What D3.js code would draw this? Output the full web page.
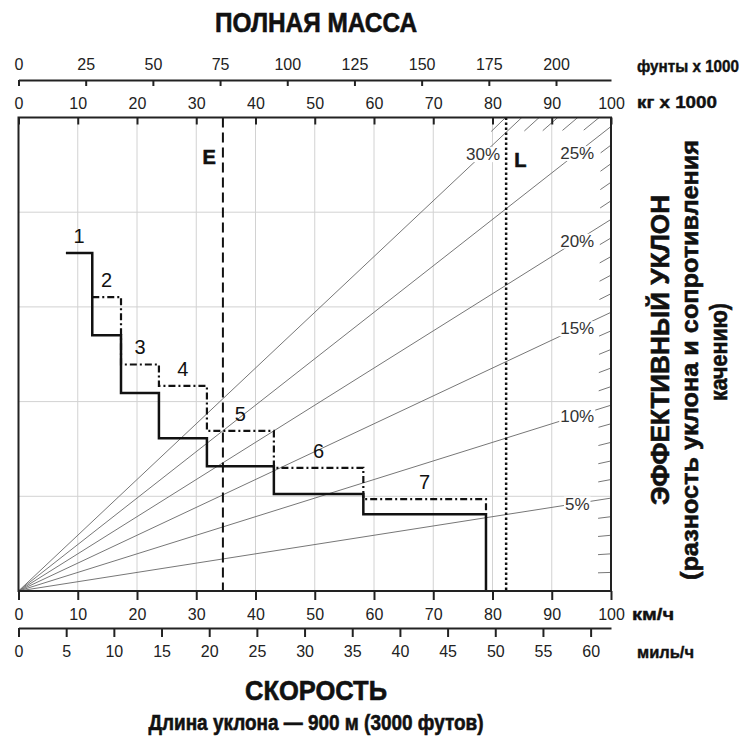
<!DOCTYPE html>
<meta charset="utf-8">
<title>Полная масса / скорость</title>
<style>
body { margin: 0; background: #fff; }
svg { display: block; font-family: "Liberation Sans", Arial, sans-serif; }
.tick text { font-size: 16px; fill: #222; font-family: "Liberation Sans", Arial, sans-serif; }
.tick line, .domain { stroke: #222; stroke-width: 2; }
.bold { font-family: "Liberation Sans", Arial, sans-serif; font-weight: bold; fill: #111; stroke: #111; stroke-width: 0.6; }
.grid { stroke: #d2d2d2; stroke-width: 1; }
.grade { stroke: #777; stroke-width: 1; fill: none; }
.glabel { font-size: 17px; fill: #333; }
.gear { font-size: 20px; fill: #111; }
</style>
<svg width="743" height="740"></svg>
<script src="https://d3js.org/d3.v7.min.js"></script>
<script>
// axis ticks
const poundTicks = [0, 25, 50, 75, 100, 125, 150, 175, 200];
const kgTicks = [0, 10, 20, 30, 40, 50, 60, 70, 80, 90, 100];
const kmhTicks = [0, 10, 20, 30, 40, 50, 60, 70, 80, 90, 100];
const mphTicks = [0, 5, 10, 15, 20, 25, 30, 35, 40, 45, 50, 55, 60];

// retarder steps: speed range (km/h) and retarding force (kN)
const gears = [1, 2, 3, 4, 5, 6, 7];
const gearFrom = [8.0, 12.45, 17.3, 23.7, 31.8, 43.1, 58.2];
const gearTo = [12.45, 17.3, 23.7, 31.8, 43.1, 58.2, 78.9];
const solidForce = [178.4, 135, 104.6, 80.7, 65.9, 51.2, 40.5];
const dashForce = [null, 155.2, 119.6, 108.3, 84.5, 65.0, 48.5];

// effective grade lines (%) and where their labels sit (t)
const gradeLabels = [5, 10, 15, 20, 25, 30];
const gradeLabelMass = [94.3, 94.3, 94.3, 94.3, 94.3, 78.4];
const gradeTicks = d3.range(1, 32);

// empty / loaded mass (t)
const massE = 34.5, massL = 82.3;

const G = 9.81; // kN per t per 100 %

const svg = d3.select("svg");
const pLeft = 18.5, pRight = 611, pTop = 117.5, pBottom = 591;

const x = d3.scaleLinear().domain([0, 100]).range([pLeft, pRight]);
const xLb = d3.scaleLinear().domain([0, 100 / 0.45359237]).range([pLeft, pRight]);
const xMph = d3.scaleLinear().domain([0, 100 / 1.609344]).range([pLeft, pRight]);
const y = d3.scaleLinear().domain([0, 250]).range([pBottom, pTop]);

// grid
const grid = svg.append("g");
grid.selectAll(".gv").data(kmhTicks.slice(1, -1)).enter().append("line")
  .attr("class", "grid").attr("x1", d => x(d)).attr("x2", d => x(d))
  .attr("y1", pTop).attr("y2", pBottom);
grid.selectAll(".gh").data(d3.range(50, 250, 50)).enter().append("line")
  .attr("class", "grid").attr("x1", pLeft).attr("x2", pRight)
  .attr("y1", d => y(d)).attr("y2", d => y(d));

// grade line end point (mass, force)
function gradeEnd(g) {
  const f = 100 * G * g / 100;
  if (f <= 250) return [100, f];
  return [250 / (G * g / 100), 250];
}

const grades = svg.append("g");
gradeLabels.forEach(g => {
  const e = gradeEnd(g);
  grades.append("line").attr("class", "grade")
    .attr("x1", x(0)).attr("y1", y(0)).attr("x2", x(e[0])).attr("y2", y(e[1]));
});
// short ends of the 1 % lines along the border
gradeTicks.filter(g => g % 5 != 0).forEach(g => {
  const e = gradeEnd(g);
  const ex = x(e[0]), ey = y(e[1]);
  if (ex < 500) return;
  const dx = ex - x(0), dy = ey - y(0);
  const len = Math.hypot(dx, dy);
  const l = e[1] < 250 ? 13 : 20;
  grades.append("line").attr("class", "grade")
    .attr("x1", ex - dx / len * l).attr("y1", ey - dy / len * l)
    .attr("x2", ex).attr("y2", ey);
});

// grade labels with white box behind
gradeLabels.forEach((g, i) => {
  const m = gradeLabelMass[i];
  const t = grades.append("text").attr("class", "glabel")
    .attr("x", x(m)).attr("y", y(m * G * g / 100)).attr("dy", "0.36em")
    .attr("text-anchor", "middle").text(g + "%");
  const b = t.node().getBBox();
  grades.insert("rect", "text")
    .attr("x", b.x - 1).attr("y", b.y + 2).attr("width", b.width + 2).attr("height", b.height - 4)
    .attr("fill", "#fff");
});

// E and L lines
svg.append("line").attr("x1", x(massE)).attr("x2", x(massE)).attr("y1", pTop).attr("y2", pBottom)
  .attr("stroke", "#111").attr("stroke-width", 2).attr("stroke-dasharray", "10,5");
svg.append("line").attr("x1", x(massL)).attr("x2", x(massL)).attr("y1", pTop).attr("y2", pBottom)
  .attr("stroke", "#111").attr("stroke-width", 2.5).attr("stroke-dasharray", "2.5,2.5");
svg.append("text").attr("class", "bold").attr("x", x(massE) - 7).attr("y", pTop + 46)
  .attr("text-anchor", "end").style("font-size", "20px").text("E");
svg.append("text").attr("class", "bold").attr("x", x(massL) + 8).attr("y", pTop + 49)
  .style("font-size", "20px").text("L");

// steps
const line = d3.line().x(d => x(d[0])).y(d => y(d[1]));
const solidPts = [];
gears.forEach((g, i) => { solidPts.push([gearFrom[i], solidForce[i]], [gearTo[i], solidForce[i]]); });
solidPts.push([gearTo[gears.length - 1], 0]);
const dashPts = [];
gears.forEach((g, i) => { if (dashForce[i] != null) dashPts.push([gearFrom[i], dashForce[i]], [gearTo[i], dashForce[i]]); });
dashPts.push([gearTo[gears.length - 1], solidForce[gears.length - 1]]);

svg.append("path").attr("d", line(dashPts)).attr("fill", "none")
  .attr("stroke", "#111").attr("stroke-width", 2.2).attr("stroke-dasharray", "7,3,2,3");
svg.append("path").attr("d", line(solidPts)).attr("fill", "none")
  .attr("stroke", "#111").attr("stroke-width", 2.5);

svg.selectAll(".gear").data(gears).enter().append("text").attr("class", "gear")
  .attr("x", (d, i) => x((gearFrom[i] + gearTo[i]) / 2))
  .attr("y", (d, i) => y(dashForce[i] != null ? dashForce[i] : solidForce[i]) - 10)
  .attr("text-anchor", "middle").text(d => d);

// plot border
svg.append("rect").attr("x", pLeft).attr("y", pTop).attr("width", pRight - pLeft).attr("height", pBottom - pTop)
  .attr("fill", "none").attr("stroke", "#222").attr("stroke-width", 2);

// axes
svg.append("g").attr("transform", `translate(0,${pTop})`)
  .call(d3.axisTop(x).tickValues(kgTicks).tickSize(-7).tickPadding(9).tickSizeOuter(0))
  .call(g => g.select(".domain").remove());
svg.append("g").attr("transform", "translate(0,80)")
  .call(d3.axisTop(xLb).tickValues(poundTicks).tickSize(-6).tickPadding(10).tickSizeOuter(0));
svg.append("g").attr("transform", `translate(0,${pBottom})`)
  .call(d3.axisBottom(x).tickValues(kmhTicks).tickSize(9).tickPadding(9).tickSizeOuter(0))
  .call(g => g.select(".domain").remove());
svg.append("g").attr("transform", "translate(0,628)")
  .call(d3.axisBottom(xMph).tickValues(mphTicks).tickSize(9).tickPadding(9).tickSizeOuter(0));
svg.selectAll(".tick text").attr("fill", "#222");

// bold narrow text: fitted to the widths of the original lettering
function label(txt, px, py, size, width, anchor, rot) {
  const t = svg.append("text").attr("class", "bold")
    .attr("text-anchor", anchor || "start")
    .attr("textLength", width).attr("lengthAdjust", "spacingAndGlyphs")
    .style("font-size", size + "px").text(txt);
  if (rot) t.attr("transform", `translate(${px},${py}) rotate(${rot})`);
  else t.attr("x", px).attr("y", py);
  return t;
}

label("фунты x 1000", 637, 72, 16, 102).style("stroke-width", 0.4);
label("кг x 1000", 637, 108, 16, 80).style("stroke-width", 0.4);
label("км/ч", 632, 620, 16, 42).style("stroke-width", 0.4);
label("миль/ч", 637, 658, 16, 57).style("stroke-width", 0.4);

label("ПОЛНАЯ МАССА", 316, 32, 27, 202, "middle");
label("СКОРОСТЬ", 316, 700, 27, 142, "middle");
label("Длина уклона — 900 м (3000 футов)", 316, 730, 22, 335, "middle");

label("ЭФФЕКТИВНЫЙ УКЛОН", 669, 350, 25, 310, "middle", -90);
label("(разность уклона и сопротивления", 698, 360, 24, 440, "middle", -90);
label("качению)", 727, 352, 24, 98, "middle", -90);
</script>
